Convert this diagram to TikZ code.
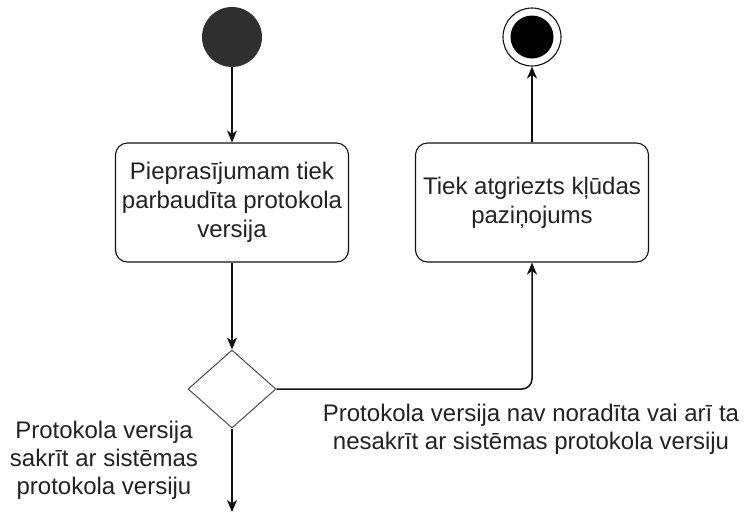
\documentclass[tikz,border=0pt]{standalone}
\usepackage{fontspec}
\setmainfont{Liberation Sans}
\usetikzlibrary{shapes.geometric,arrows.meta}

\definecolor{inkline}{HTML}{111111}
\definecolor{inktext}{HTML}{222222}
\definecolor{startfill}{HTML}{2F2F2F}

\tikzset{
  flow/.style={draw=inkline, line width=1.5pt,
    -{Stealth[length=12pt,width=10pt,inset=3.5pt]}},
  actbox/.style={draw=inkline, line width=1.1pt, rounded corners=12pt,
    minimum width=233pt, minimum height=119pt, align=center,
    font=\fontsize{24pt}{29pt}\selectfont, text=inktext},
  decision/.style={diamond, draw=black!70, line width=1pt, inner sep=0pt,
    minimum width=88pt, minimum height=78pt},
  guard/.style={align=center, font=\fontsize{24pt}{28pt}\selectfont,
    text=inktext, inner sep=0pt},
}

\begin{document}
\begin{tikzpicture}[x=1pt, y=-1pt]
  \useasboundingbox[fill=white] (0,0) rectangle (745,515);

  % initial and final states
  \node[circle, fill=startfill, minimum size=60pt, inner sep=0pt] (start) at (232,37) {};
  \node[circle, draw=inkline, line width=1.1pt, minimum size=58pt, inner sep=0pt] (final) at (532,37) {};
  \node[circle, fill=black, minimum size=43pt, inner sep=0pt] (finaldot) at (final.center) {};

  % actions
  \node[actbox] (check) at (232,202.5) {Pieprasījumam tiek\\parbaudīta protokola\\versija};
  \node[actbox] (error) at (532,202.5) {Tiek atgriezts kļūdas\\paziņojums};

  % decision
  \node[decision] (dec) at (232,389) {};
  \coordinate (out) at (232,512);

  % transitions
  \draw[flow] (start.south) -- (check.north);
  \draw[flow] (check.south) -- (dec.north);
  \draw[flow, rounded corners=10pt] (dec.east) -| (error.south);
  \draw[flow] (error.north) -- (final.south);
  \draw[flow] (dec.south) -- (out);

  % guard labels
  \node[guard] (okguard) at (104,460) {Protokola versija\\sakrīt ar sistēmas\\protokola versiju};
  \node[guard] (badguard) at (531,429) {Protokola versija nav noradīta vai arī ta\\nesakrīt ar sistēmas protokola versiju};
\end{tikzpicture}
\end{document}
